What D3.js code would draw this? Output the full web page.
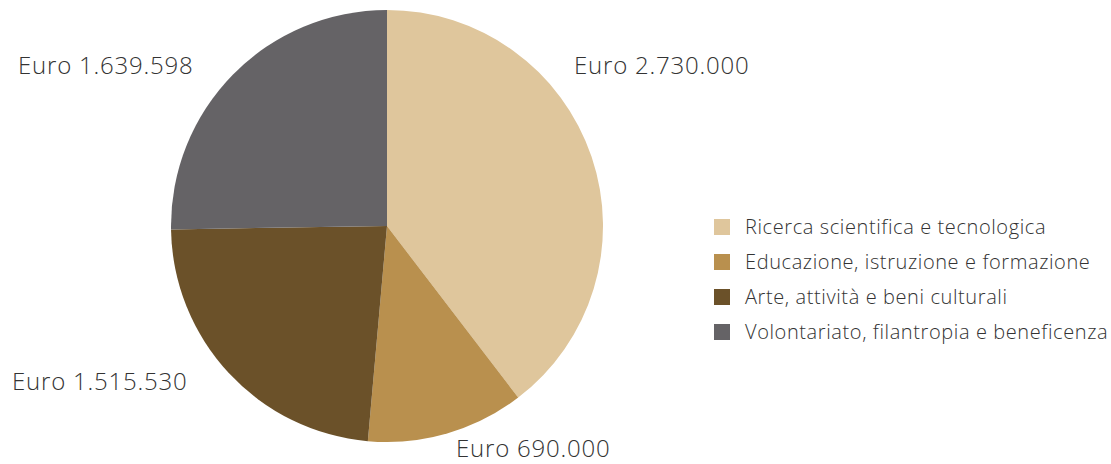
<!DOCTYPE html>
<html><head><meta charset="utf-8">
<script src="https://cdn.jsdelivr.net/npm/d3@7"></script>
<style>body{margin:0;background:#fff}svg{display:block}text{font-family:"Open Sans",sans-serif;font-weight:300;fill:#333}</style>
</head><body><svg id="c" width="1111" height="464"></svg>
<script>
const categories = ["Ricerca scientifica e tecnologica","Educazione, istruzione e formazione","Arte, attività e beni culturali","Volontariato, filantropia e beneficenza"];
// slice sizes as drawn in the picture (angles)
const values = [2604000, 776000, 1534000, 1660000];
const valueLabels = ["Euro 2.730.000","Euro 690.000","Euro 1.515.530","Euro 1.639.598"];
const colors = ["#dfc69c","#b9904e","#6b5129","#656366"];
const labelPos = [[574,74],[456,457],[12,390],[18,74]];

const svg = d3.select("#c");
const cx = 387, cy = 226, r = 216;
const pie = d3.pie().sort(null).value(d=>d)(values);
const arc = d3.arc().innerRadius(0).outerRadius(r);
const g = svg.append("g").attr("transform",`translate(${cx},${cy})`);
g.selectAll("path").data(pie).join("path").attr("d",arc).attr("fill",(d,i)=>colors[i]);

svg.selectAll("text.lbl").data(valueLabels).join("text").attr("class","lbl")
  .attr("x",(d,i)=>labelPos[i][0]).attr("y",(d,i)=>labelPos[i][1])
  .style("font-size","24px").style("letter-spacing","0.8px").text(d=>d);

const lg = svg.append("g").attr("transform","translate(714,219)");
const items = lg.selectAll("g").data(categories).join("g").attr("transform",(d,i)=>`translate(0,${i*35})`);
items.append("rect").attr("width",16).attr("height",16).attr("fill",(d,i)=>colors[i]);
items.append("text").attr("x",31).attr("y",15).style("font-size","20px").style("letter-spacing","0.6px").text(d=>d);
</script></body></html>
